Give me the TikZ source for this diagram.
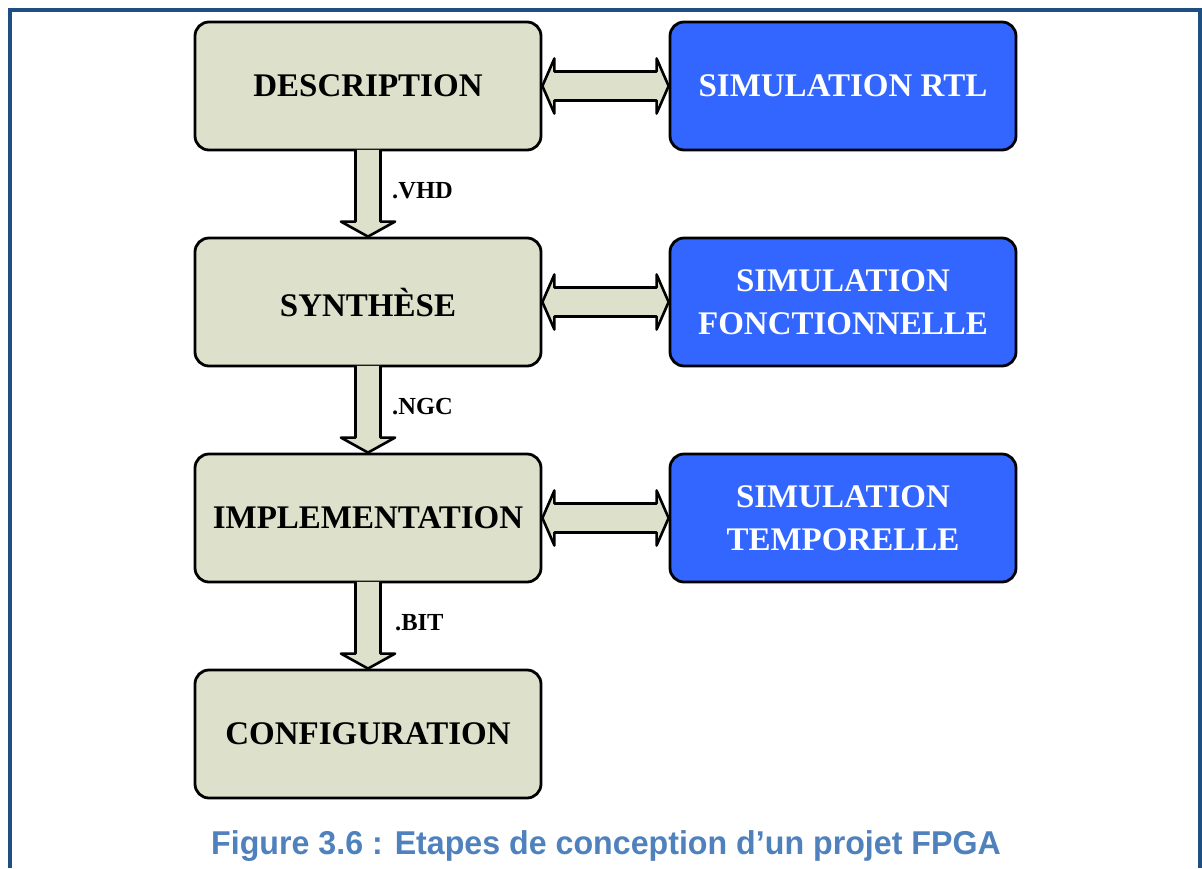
\documentclass[tikz,border=0pt]{standalone}
\usepackage{fontspec}
\setmainfont{Liberation Serif}
\newfontfamily\capfont{Liberation Sans}
\usetikzlibrary{calc}
\definecolor{framecol}{HTML}{1F4E80}
\definecolor{beige}{HTML}{DDE1CB}
\definecolor{simblue}{HTML}{3366FF}
\definecolor{capblue}{HTML}{4F81BD}
\tikzset{
  stepbox/.style={draw=black, line width=2.8pt, rounded corners=14pt, fill=beige,
    minimum width=346pt, minimum height=128pt, inner sep=0pt, align=center,
    font=\bfseries\fontsize{33}{43}\selectfont},
  simbox/.style={stepbox, fill=simblue, text=white},
  fatarrow/.style={draw=black, line width=2.6pt, fill=beige, line join=round},
  filelabel/.style={anchor=west, inner sep=0pt, font=\bfseries\fontsize{24.5}{28}\selectfont}
}
\begin{document}
\begin{tikzpicture}[x=1pt, y=-1pt]
\useasboundingbox (0,0) rectangle (1202,868);
% frame
\draw[framecol, line width=3.6pt] (9.8,868) -- (9.8,9.8) -- (1200.2,9.8) -- (1200.2,868);
% boxes
\node[stepbox] (desc) at (368,86) {DESCRIPTION};
\node[stepbox] (synth) at (368,302) {SYNTHÈSE};
\node[stepbox] (impl) at (368,518) {IMPLEMENTATION};
\node[stepbox] (conf) at (368,734) {CONFIGURATION};
\node[simbox] (rtl) at (843,86) {SIMULATION RTL};
\node[simbox] (fonc) at (843,302) {SIMULATION\\FONCTIONNELLE};
\node[simbox] (temp) at (843,518) {SIMULATION\\TEMPORELLE};
% vertical arrows
\foreach \a/\b in {desc/synth, synth/impl, impl/conf}{
  \fill[beige] ($(\a.south)+(-12.5,-1.5)$) -- ($(\b.north)+(-12.5,-15)$) -- ($(\b.north)+(-27,-15)$) -- (\b.north) -- ($(\b.north)+(27,-15)$) -- ($(\b.north)+(12.5,-15)$) -- ($(\a.south)+(12.5,-1.5)$) -- cycle;
  \draw[line width=2.6pt, line join=round] ($(\a.south)+(-12.5,-1.5)$) -- ($(\b.north)+(-12.5,-15)$) -- ($(\b.north)+(-27,-15)$) -- (\b.north) -- ($(\b.north)+(27,-15)$) -- ($(\b.north)+(12.5,-15)$) -- ($(\a.south)+(12.5,-1.5)$);
}
% double arrows
\foreach \a/\b in {desc/rtl, synth/fonc, impl/temp}{
  \draw[fatarrow] (\a.east) -- ($(\a.east)+(12,-27.5)$) -- ($(\a.east)+(12,-14.5)$) -- ($(\b.west)+(-12,-14.5)$) -- ($(\b.west)+(-12,-27.5)$) -- (\b.west) -- ($(\b.west)+(-12,27.5)$) -- ($(\b.west)+(-12,14.5)$) -- ($(\a.east)+(12,14.5)$) -- ($(\a.east)+(12,27.5)$) -- cycle;
}
% file labels
\node[filelabel] (vhd) at (392,191) {.VHD};
\node[filelabel] (ngc) at (392,407) {.NGC};
\node[filelabel] (bit) at (395,623) {.BIT};
% caption
\node[text=capblue, font=\capfont\bfseries\fontsize{33}{36}\selectfont, xscale=0.975] (cap) at (606,846) {Figure 3.6 : Etapes de conception d’un projet FPGA};
\end{tikzpicture}
\end{document}
